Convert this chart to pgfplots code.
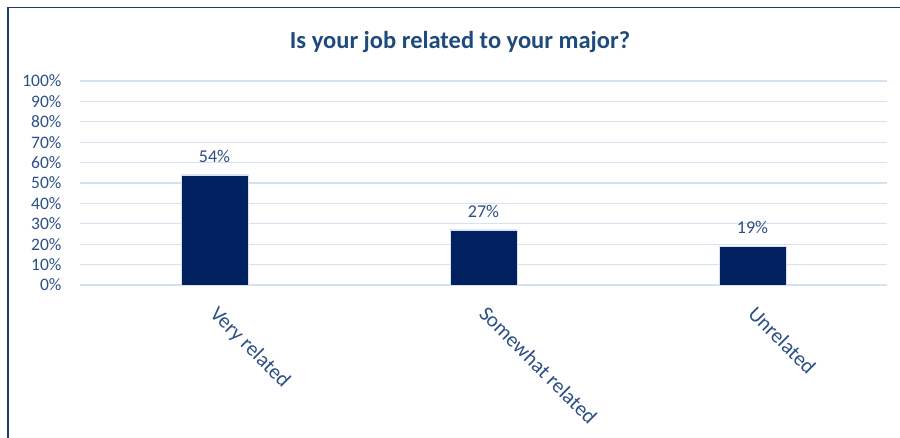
\documentclass[border=0pt]{standalone}
\usepackage{pgfplots}
\pgfplotsset{compat=1.18}
\usepackage{fontspec}
\setmainfont{Carlito}
\definecolor{barc}{HTML}{002060}
\definecolor{txtc}{HTML}{2B4F86}
\definecolor{titc}{HTML}{1F4A7C}
\definecolor{gridc}{HTML}{D6E2F3}
\definecolor{framec}{HTML}{1F3A70}
\begin{document}
\begin{tikzpicture}[x=1pt,y=1pt]
\path[use as bounding box] (0,0) rectangle (900,437);
\draw[framec, line width=1.6pt] (8,-2) -- (8,429.5) -- (902,429.5);
\node[font=\fontsize{24.5}{28}\selectfont\bfseries, text=titc] at (460,395) {Is your job related to your major?};
\begin{axis}[
  at={(80pt,152pt)}, anchor=south west,
  scale only axis, width=807pt, height=204pt,
  xmin=-0.5, xmax=2.5, ymin=0, ymax=100,
  ytick={0,10,...,100},
  yticklabel={\pgfmathprintnumber{\tick}\%},
  xtick=data,
  xticklabels={Very related, Somewhat related, Unrelated},
  x tick label style={rotate=-45, anchor=north west, font=\fontsize{21}{24}\selectfont, text=txtc, xshift=14pt, yshift=-7pt},
  y tick label style={font=\fontsize{17.5}{20}\selectfont, text=txtc, xshift=-15pt},
  /pgf/number format/assume math mode=true,
  axis line style={draw=none},
  major tick length=0pt,
  ymajorgrids, grid style={gridc, line width=1.1pt},
  ybar, bar width=67pt,
  nodes near coords={\pgfmathprintnumber{\pgfplotspointmeta}\%},
  every node near coord/.append style={font=\fontsize{18}{21}\selectfont, text=txtc, yshift=9pt},
  clip=false,
]
\addplot[fill=barc, draw=gridc, line width=0.6pt] coordinates {(0,54) (1,27) (2,19)};
\end{axis}
\end{tikzpicture}
\end{document}
